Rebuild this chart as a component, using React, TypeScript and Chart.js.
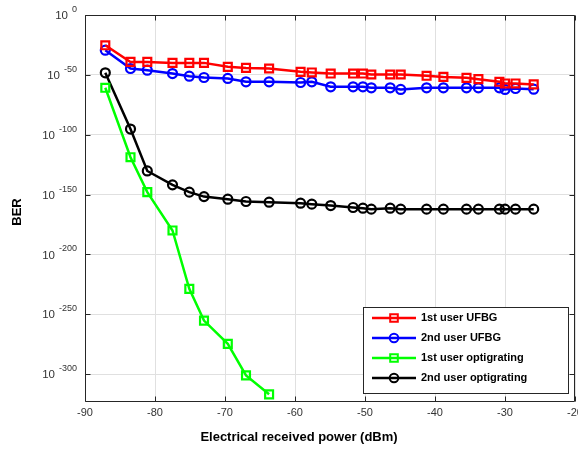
import React, { useEffect, useRef } from "react";
import { Chart, registerables } from "chart.js";

Chart.register(...registerables);

// Received power (dBm) shared by the UFBG and 2nd-user optigrating series
const power = [-87.1, -83.5, -81.1, -77.5, -75.1, -73.0, -69.6, -67.0, -63.7, -59.2, -57.6, -54.9, -51.7, -50.3, -49.1, -46.4, -44.9, -41.2, -38.8, -35.5, -33.8, -30.8, -30.0, -28.5, -25.9];
// log10(BER) values
const ufbgUser1 = [-25.3, -39.2, -39.2, -40, -40, -40, -43.3, -44.2, -44.7, -47.5, -48, -48.9, -48.9, -48.9, -49.7, -49.7, -49.7, -50.8, -51.7, -52.5, -53.6, -55.8, -57.2, -57.2, -58];
const ufbgUser2 = [-29.4, -44.7, -46.1, -48.9, -51.1, -52.2, -53, -55.8, -55.8, -56.4, -55.8, -60, -60, -60, -60.8, -60.8, -62.2, -60.8, -60.8, -60.8, -60.8, -60.8, -62.2, -61.4, -62];
const optiUser2 = [-48.3, -95.3, -130.3, -141.9, -148, -151.7, -153.9, -155.8, -156.4, -157.2, -158, -159.2, -160.8, -161.4, -162.2, -161.4, -162.2, -162.2, -162.2, -162.2, -162.2, -162.2, -162.2, -162.2, -162.2];
const powerOpti1 = [-87.1, -83.5, -81.1, -77.5, -75.1, -73.0, -69.6, -67.0, -63.7];
const optiUser1 = [-60.8, -118.8, -148, -180, -228.8, -255.3, -274.7, -301.1, -316.9];

const xTicks = [-90, -80, -70, -60, -50, -40, -30, -20];
const yTicks = [0, -50, -100, -150, -200, -250, -300];
const yMin = -323.3;
const xTitle = "Electrical received power (dBm)";
const yTitle = "BER";

const FONT = "'Liberation Sans', Arial, Helvetica, sans-serif";

const seriesMeta = [
  { label: "1st user UFBG", color: "#ff0000", shape: "rect" },
  { label: "2nd user UFBG", color: "#0000ff", shape: "circle" },
  { label: "1st user optigrating", color: "#00ff00", shape: "rect" },
  { label: "2nd user optigrating", color: "#000000", shape: "circle" },
];

function pts(xs: number[], ys: number[]) {
  return xs.map((x, i) => ({ x, y: ys[i] }));
}

const decor = {
  id: "decor",
  afterDraw(chart: any) {
    const { ctx, chartArea: a, scales } = chart;
    const xs = scales.x;
    const ys = scales.y;
    ctx.save();
    // box
    ctx.strokeStyle = "#262626";
    ctx.lineWidth = 1;
    const L = Math.round(a.left) + 0.5;
    const T = Math.round(a.top) + 0.5;
    const R = Math.round(a.right) - 0.5;
    const B = Math.round(a.bottom) - 0.5;
    ctx.beginPath();
    ctx.rect(L, T, R - L, B - T);
    xTicks.forEach((v) => {
      const px = Math.round(xs.getPixelForValue(v)) + 0.5;
      ctx.moveTo(px, B);
      ctx.lineTo(px, B - 5);
      ctx.moveTo(px, T);
      ctx.lineTo(px, T + 5);
    });
    yTicks.forEach((v) => {
      const py = Math.round(ys.getPixelForValue(v)) + 0.5;
      ctx.moveTo(L, py);
      ctx.lineTo(L + 5, py);
      ctx.moveTo(R, py);
      ctx.lineTo(R - 5, py);
    });
    ctx.stroke();

    // x tick labels
    ctx.fillStyle = "#333333";
    ctx.font = `11px ${FONT}`;
    ctx.textAlign = "center";
    ctx.textBaseline = "middle";
    xTicks.forEach((v) => ctx.fillText(String(v), xs.getPixelForValue(v), a.bottom + 11));

    // y tick labels 10^n
    yTicks.forEach((v) => {
      const py = ys.getPixelForValue(v);
      const exp = String(v);
      ctx.font = `9px ${FONT}`;
      const we = ctx.measureText(exp).width;
      const right = 77;
      ctx.textAlign = "left";
      ctx.fillText(exp, right - we, py - 5.5);
      ctx.font = `11.5px ${FONT}`;
      ctx.textAlign = "right";
      ctx.fillText("10", right - we - 4, py + 1);
    });

    // titles
    ctx.fillStyle = "#000";
    ctx.font = `bold 13px ${FONT}`;
    ctx.textAlign = "center";
    ctx.fillText(xTitle, 299, 437);
    ctx.save();
    ctx.translate(17, 212);
    ctx.rotate(-Math.PI / 2);
    ctx.fillText(yTitle, 0, 0);
    ctx.restore();

    // legend
    const lx = 363, ly = 307, lw = 205, lh = 86;
    ctx.fillStyle = "#fff";
    ctx.fillRect(lx, ly, lw, lh);
    ctx.strokeStyle = "#262626";
    ctx.lineWidth = 1;
    ctx.strokeRect(lx + 0.5, ly + 0.5, lw, lh);
    seriesMeta.forEach((m, i) => {
      const cy = 318 + i * 20;
      ctx.strokeStyle = m.color;
      ctx.lineWidth = 2.5;
      ctx.beginPath();
      ctx.moveTo(372, cy);
      ctx.lineTo(416, cy);
      ctx.stroke();
      ctx.lineWidth = 2;
      ctx.beginPath();
      if (m.shape === "rect") {
        ctx.rect(394 - 3.8, cy - 3.8, 7.6, 7.6);
      } else {
        ctx.arc(394, cy, 4.3, 0, Math.PI * 2);
      }
      ctx.stroke();
      ctx.fillStyle = "#000";
      ctx.font = `bold 11px ${FONT}`;
      ctx.textAlign = "left";
      ctx.textBaseline = "middle";
      ctx.fillText(m.label, 421, cy);
    });
    ctx.restore();
  },
};

export default function App() {
  const ref = useRef<HTMLCanvasElement | null>(null);
  useEffect(() => {
    if (!ref.current) return;
    const dataSets = [pts(power, ufbgUser1), pts(power, ufbgUser2), pts(powerOpti1, optiUser1), pts(power, optiUser2)];
    const chart = new Chart(ref.current, {
      type: "line",
      data: {
        datasets: seriesMeta.map((m, i) => ({
          label: m.label,
          data: dataSets[i],
          borderColor: m.color,
          backgroundColor: m.color,
          borderWidth: 2.5,
          pointStyle: m.shape as any,
          pointRadius: m.shape === "rect" ? 5.6 : 4.5,
          pointBorderWidth: 2.2,
          pointBorderColor: m.color,
          pointBackgroundColor: "rgba(0,0,0,0)",
          tension: 0,
          fill: false,
        })),
      },
      options: {
        animation: false,
        responsive: false,
        devicePixelRatio: 1,
        layout: { padding: { left: 0, right: 25, top: 15, bottom: 0 } },
        plugins: { legend: { display: false }, tooltip: { enabled: false } },
        scales: {
          x: {
            type: "linear",
            min: -90,
            max: -20,
            ticks: { display: false, stepSize: 10 },
            grid: { color: "#e0e0e0", drawTicks: false },
            border: { display: false },
            afterBuildTicks: (s: any) => {
              s.ticks = xTicks.map((v) => ({ value: v }));
            },
            afterFit: (s: any) => {
              s.height = 48;
            },
          },
          y: {
            type: "linear",
            min: yMin,
            max: 0,
            ticks: { display: false },
            grid: { color: "#e0e0e0", drawTicks: false },
            border: { display: false },
            afterBuildTicks: (s: any) => {
              s.ticks = yTicks.map((v) => ({ value: v }));
            },
            afterFit: (s: any) => {
              s.width = 85;
            },
          },
        },
      },
      plugins: [decor],
    });
    return () => chart.destroy();
  }, []);
  return (
    <div style={{ position: "fixed", left: 0, top: 0, width: 600, height: 450, background: "#fff" }}>
      <canvas ref={ref} width={600} height={450} style={{ display: "block" }} />
    </div>
  );
}
